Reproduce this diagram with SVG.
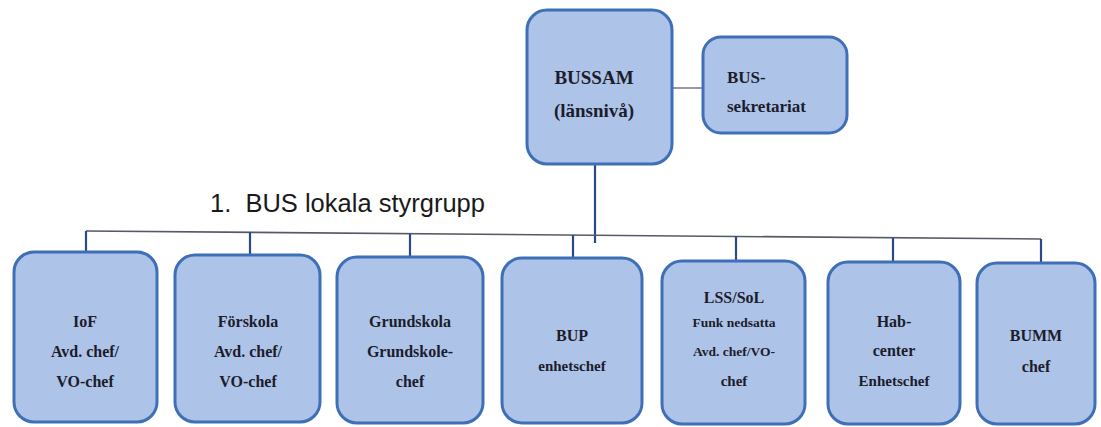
<svg xmlns="http://www.w3.org/2000/svg" width="1101" height="427" viewBox="0 0 1101 427">
<style>
.box{fill:#adc4e8;stroke:#3f6fb6;stroke-width:3}
.t{font-family:"Liberation Serif","Times New Roman",serif;font-weight:bold;fill:#1c1c2c;text-anchor:middle}
.s16{font-size:16px}
.s15{font-size:15px}
.s14{font-size:13.5px}
.title{font-family:"Liberation Sans",Arial,sans-serif;font-size:25.5px;fill:#1a1a1a}
.ln{fill:none;stroke:#555a66;stroke-width:1.6}
.dr{fill:none;stroke:#2c4a82;stroke-width:2.2}
</style>
<rect width="1101" height="427" fill="#ffffff"/>
<g id="connectors">
<line class="ln" x1="672" y1="88" x2="703" y2="88" style="stroke:#9a9aa6;stroke-width:2"/>
<line class="dr" x1="595" y1="164" x2="595" y2="243"/>
<line class="ln" x1="86" y1="231" x2="1041" y2="239"/>
<line class="dr" x1="86" y1="231" x2="86" y2="252"/>
<line class="dr" x1="250" y1="232.4" x2="250" y2="255"/>
<line class="dr" x1="410" y1="233.7" x2="410" y2="257"/>
<line class="dr" x1="573" y1="235" x2="573" y2="258"/>
<line class="dr" x1="736" y1="236.4" x2="736" y2="261"/>
<line class="dr" x1="893" y1="237.8" x2="893" y2="262"/>
<line class="dr" x1="1041" y1="239" x2="1041" y2="263"/>
</g>
<text class="title" x="210" y="212" xml:space="preserve">1.  BUS lokala styrgrupp</text>
<g id="bussam">
<rect class="box" x="527" y="10" width="145" height="154" rx="20"/>
<text class="t" style="font-size:19px" x="594" y="84">BUSSAM</text>
<text class="t" style="font-size:19px" x="594" y="117">(länsnivå)</text>
</g>
<g id="sekretariat">
<rect class="box" x="703" y="37" width="144" height="96" rx="18"/>
<text class="t" style="font-size:17px;text-anchor:start" x="727" y="83">BUS-</text>
<text class="t" style="font-size:17px;text-anchor:start" x="727" y="112">sekretariat</text>
</g>
<g id="iof">
<rect class="box" x="14" y="252" width="143" height="170" rx="20"/>
<text class="t s16" x="85" y="327">IoF</text>
<text class="t s16" x="85" y="357">Avd. chef/</text>
<text class="t s16" x="85" y="387">VO-chef</text>
</g>
<g id="forskola">
<rect class="box" x="175" y="255" width="145" height="167" rx="20"/>
<text class="t s16" x="248" y="327">Förskola</text>
<text class="t s16" x="248" y="357">Avd. chef/</text>
<text class="t s16" x="248" y="387">VO-chef</text>
</g>
<g id="grundskola">
<rect class="box" x="337" y="257" width="146" height="166" rx="20"/>
<text class="t s16" x="410" y="327">Grundskola</text>
<text class="t s16" x="410" y="357">Grundskole-</text>
<text class="t s16" x="410" y="387">chef</text>
</g>
<g id="bup">
<rect class="box" x="502" y="258" width="140" height="165" rx="20"/>
<text class="t s16" x="572" y="341">BUP</text>
<text class="t s15" x="572" y="371">enhetschef</text>
</g>
<g id="lss">
<rect class="box" x="662" y="261" width="143" height="163" rx="20"/>
<text class="t s16" x="734" y="303">LSS/SoL</text>
<text class="t s14" x="734" y="327">Funk nedsatta</text>
<text class="t s14" x="734" y="356">Avd. chef/VO-</text>
<text class="t s15" x="734" y="386">chef</text>
</g>
<g id="habcenter">
<rect class="box" x="828" y="262" width="132" height="162" rx="20"/>
<text class="t s16" x="894" y="327">Hab-</text>
<text class="t s16" x="894" y="356">center</text>
<text class="t s15" x="894" y="386">Enhetschef</text>
</g>
<g id="bumm">
<rect class="box" x="977" y="263" width="118" height="161" rx="20"/>
<text class="t s16" x="1036" y="341">BUMM</text>
<text class="t s16" x="1036" y="372">chef</text>
</g>
</svg>
